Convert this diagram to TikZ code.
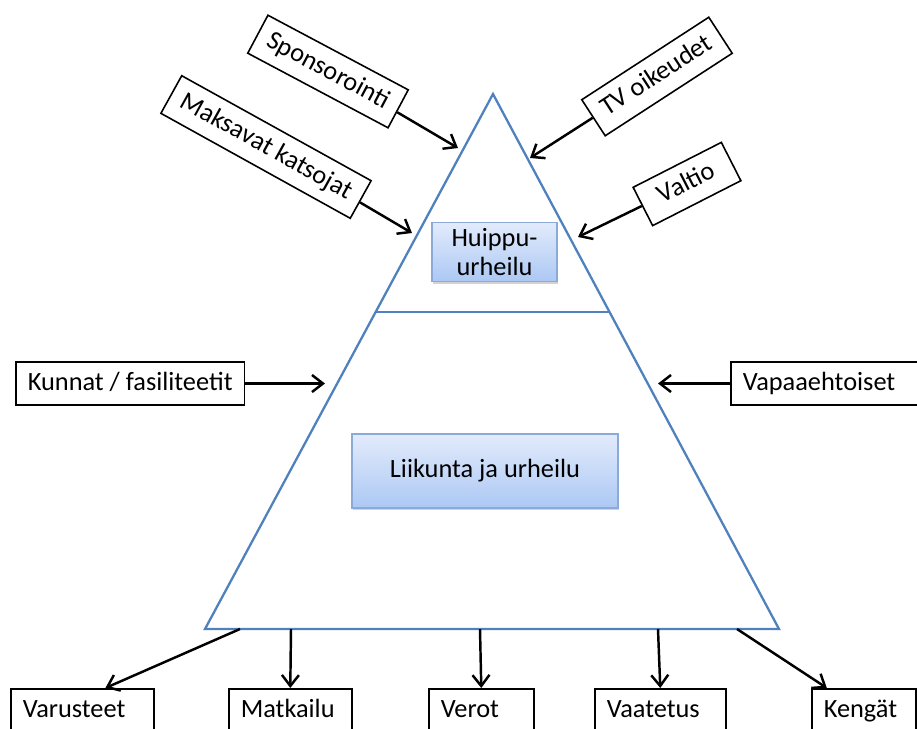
\documentclass[tikz,border=0pt]{standalone}
\usepackage{fontspec}
\setmainfont{Carlito}
\usepackage{tikz}
\usetikzlibrary{arrows.meta}
\usetikzlibrary{shadows,calc}

\definecolor{pyrline}{RGB}{79,129,189}
\definecolor{boxtop}{RGB}{226,235,251}
\definecolor{boxbot}{RGB}{172,200,244}
\definecolor{boxedge}{RGB}{140,170,215}

\begin{document}
\begin{tikzpicture}[x=0.02cm,y=-0.02cm,
	font=\fontsize{15}{16.5}\selectfont,
	>={Straight Barb[length=2.2mm,width=3.4mm]},
	lbl/.style={draw=black, fill=white, line width=0.9pt, inner xsep=0.24cm, minimum height=0.86cm,
		text height=2.1ex, text depth=0.5ex},
	low/.style={lbl, align=left, anchor=north west},
	lvl/.style={draw=boxedge, line width=0.8pt, top color=boxtop, bottom color=boxbot, align=center,
		drop shadow={shadow xshift=0.6pt, shadow yshift=-1.2pt, opacity=0.35}},
	arr/.style={->, line width=1.4pt}]
	\clip (0,0) rectangle (917,728);

	\coordinate (top) at (493,94);
	\coordinate (bl) at (205,629);
	\coordinate (br) at (779,629);
	\draw [pyrline, line width=1.3pt] (top) -- (bl) -- (br) -- cycle;
	\draw [pyrline, line width=1.3pt] ($(top)!0.4075!(bl)$) -- ($(top)!0.4075!(br)$);

	\node [lvl, minimum width=2.5cm, minimum height=1.16cm] (huippu) at (494.5,252) {Huippu-\\urheilu};
	\node [lvl, minimum width=5.32cm, minimum height=1.48cm] (liikunta) at (485,471) {Liikunta ja urheilu};

	\node [lbl, rotate=-28] (spons) at (328,71.5) {Sponsorointi};
	\node [lbl, rotate=-29] (maks) at (266,147) {Maksavat katsojat};
	\node [lbl, rotate=33] (tv) at (657,76.5) {TV oikeudet};
	\node [lbl, rotate=27, minimum width=1.98cm] (valtio) at (687,184) {Valtio};
	\node [lbl, anchor=west] (kunnat) at (15,383.5) {Kunnat / fasiliteetit};
	\node [lbl, anchor=west, text width=3.32cm] (vapaa) at (730,383.5) {Vapaaehtoiset};

	\node [low, text width=2.38cm] (varus) at (10,688) {Varusteet};
	\node [low, text width=1.98cm] (matka) at (228,688) {Matkailu};
	\node [low, text width=1.62cm] (verot) at (428,688) {Verot};
	\node [low, text width=2.14cm] (vaate) at (594,688) {Vaatetus};
	\node [low, text width=1.60cm] (kenga) at (811,688) {Kengät};

	\coordinate (s1) at (458,148);
	\coordinate (m1) at (412,233);
	\coordinate (t1) at (530,158);
	\coordinate (v1) at (578,237);
	\coordinate (k1) at (325,383.5);
	\coordinate (p1) at (658,383.5);

	\draw [arr] (spons) to (s1);
	\draw [arr] (maks) to (m1);
	\draw [arr] (tv) to (t1);
	\draw [arr] (valtio) to (v1);
	\draw [arr] (kunnat) to (k1);
	\draw [arr] (vapaa) to (p1);

	\coordinate (b1) at (240,629);
	\coordinate (b2) at (291,629);
	\coordinate (b3) at (480,629);
	\coordinate (b4) at (658,629);
	\coordinate (b5) at (737,629);

	\draw [arr] (b1) to ($(varus.north west)!0.66!(varus.north east)$);
	\draw [arr] (b2) to (matka.north);
	\draw [arr] (b3) to (verot.north);
	\draw [arr] (b4) to (vaate.north);
	\draw [arr] (b5) to ($(kenga.north west)!0.15!(kenga.north east)$);
\end{tikzpicture}
\end{document}
